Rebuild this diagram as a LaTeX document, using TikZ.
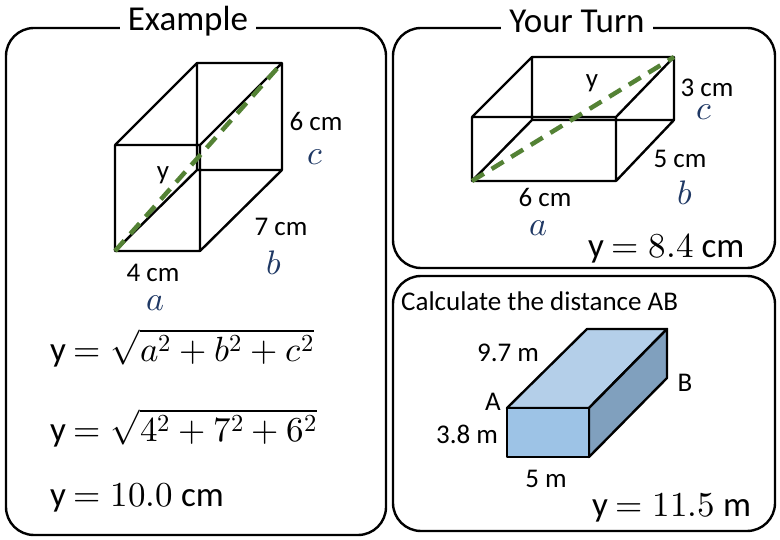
\documentclass[tikz,border=0pt]{standalone}
\usepackage{fontspec}
\setmainfont{Carlito}
\usepackage{unicode-math}
\setmathfont{Latin Modern Math}
\definecolor{lbl}{RGB}{31,56,100}
\definecolor{grn}{RGB}{84,130,53}
\definecolor{frontc}{RGB}{157,195,230}
\definecolor{topc}{RGB}{180,207,233}
\definecolor{sidec}{RGB}{128,160,190}
\begin{document}
\begin{tikzpicture}[x=1pt,y=-1pt,
  panel/.style={draw,line width=2.4pt,rounded corners=28pt},
  edge/.style={line width=2.4pt,line join=round},
  diag/.style={grn,line width=4.5pt,dash pattern=on 14pt off 9pt},
  lab/.style={font=\fontsize{27}{32}\selectfont,inner sep=0pt},
  var/.style={text=lbl,font=\fontsize{34}{40}\selectfont,inner sep=0pt},
  big/.style={font=\fontsize{35}{42}\selectfont,inner sep=0pt,anchor=west},
  ttl/.style={font=\fontsize{35}{40}\selectfont,inner sep=0pt,fill=white,inner xsep=8pt}]
\useasboundingbox (0,0) rectangle (780,540);
% panels
\draw[panel] (6,28) rectangle (386,535);
\draw[panel] (393,28) rectangle (775,268);
\draw[panel] (393,276) rectangle (775,531);
\node[ttl] (t1) at (188,21) {Example};
\node[ttl] (t2) at (577,21) {Your Turn};
% left cuboid
\coordinate (A1) at (115,145); \coordinate (B1) at (200,145);
\coordinate (C1) at (200,251); \coordinate (D1) at (115,251);
\coordinate (A2) at (197,63); \coordinate (B2) at (282,63);
\coordinate (C2) at (282,170); \coordinate (D2) at (197,170);
\draw[edge] (A1)--(B1)--(C1)--(D1)--cycle (A2)--(B2)--(C2)--(D2)--cycle
  (A1)--(A2) (B1)--(B2) (C1)--(C2) (D1)--(D2);
\draw[diag] (D1)--(B2);
\node[lab] (l1) at (316,121) {6 cm};
\node[var] (v1) at (315,157) {$c$};
\node[lab] (l2) at (163,175) {y};
\node[lab] (l3) at (281,227) {7 cm};
\node[var] (v2) at (274,263) {$b$};
\node[lab] (l4) at (153,273) {4 cm};
\node[var] (v3) at (155,303) {$a$};
\node[big] (f1) at (50,348) {y $=\sqrt{a^2+b^2+c^2}$};
\node[big] (f2) at (50,428) {y $=\sqrt{4^2+7^2+6^2}$};
\node[big] (f3) at (50,498) {y $=10.0$ cm};
% top-right cuboid
\coordinate (P1) at (472,117); \coordinate (Q1) at (616,117);
\coordinate (R1) at (616,181); \coordinate (S1) at (472,181);
\coordinate (P2) at (532,57); \coordinate (Q2) at (674,57);
\coordinate (R2) at (674,120); \coordinate (S2) at (532,120);
\draw[edge] (P1)--(Q1)--(R1)--(S1)--cycle (P2)--(Q2)--(R2)--(S2)--cycle
  (P1)--(P2) (Q1)--(Q2) (R1)--(R2) (S1)--(S2);
\draw[diag] (S1)--(Q2);
\node[lab] (m1) at (592,83) {y};
\node[lab] (m2) at (707,88) {3 cm};
\node[var] (w1) at (704,112) {$c$};
\node[lab] (m3) at (680,159) {5 cm};
\node[var] (w2) at (685,193) {$b$};
\node[lab] (m4) at (545,197) {6 cm};
\node[var] (w3) at (538,228) {$a$};
\node[big] (g1) at (588,248) {y $=8.4$ cm};
% bottom-right
\node[lab,anchor=west] (h0) at (401,301) {Calculate the distance AB};
\coordinate (F1) at (507,408); \coordinate (F2) at (589,408);
\coordinate (F3) at (589,457); \coordinate (F4) at (507,457);
\coordinate (K1) at (587,329); \coordinate (K2) at (667,329);
\coordinate (K3) at (667,378);
\filldraw[edge,fill=topc] (F1)--(K1)--(K2)--(F2)--cycle;
\filldraw[edge,fill=sidec] (F2)--(K2)--(K3)--(F3)--cycle;
\filldraw[edge,fill=frontc] (F1)--(F2)--(F3)--(F4)--cycle;
\node[lab] (h1) at (508,353) {9.7 m};
\node[lab] (h2) at (493,402) {A};
\node[lab] (h3) at (685,383) {B};
\node[lab] (h4) at (467,434) {3.8 m};
\node[lab] (h5) at (546,479) {5 m};
\node[big] (h6) at (592,508) {y $=11.5$ m};
\end{tikzpicture}
\end{document}
